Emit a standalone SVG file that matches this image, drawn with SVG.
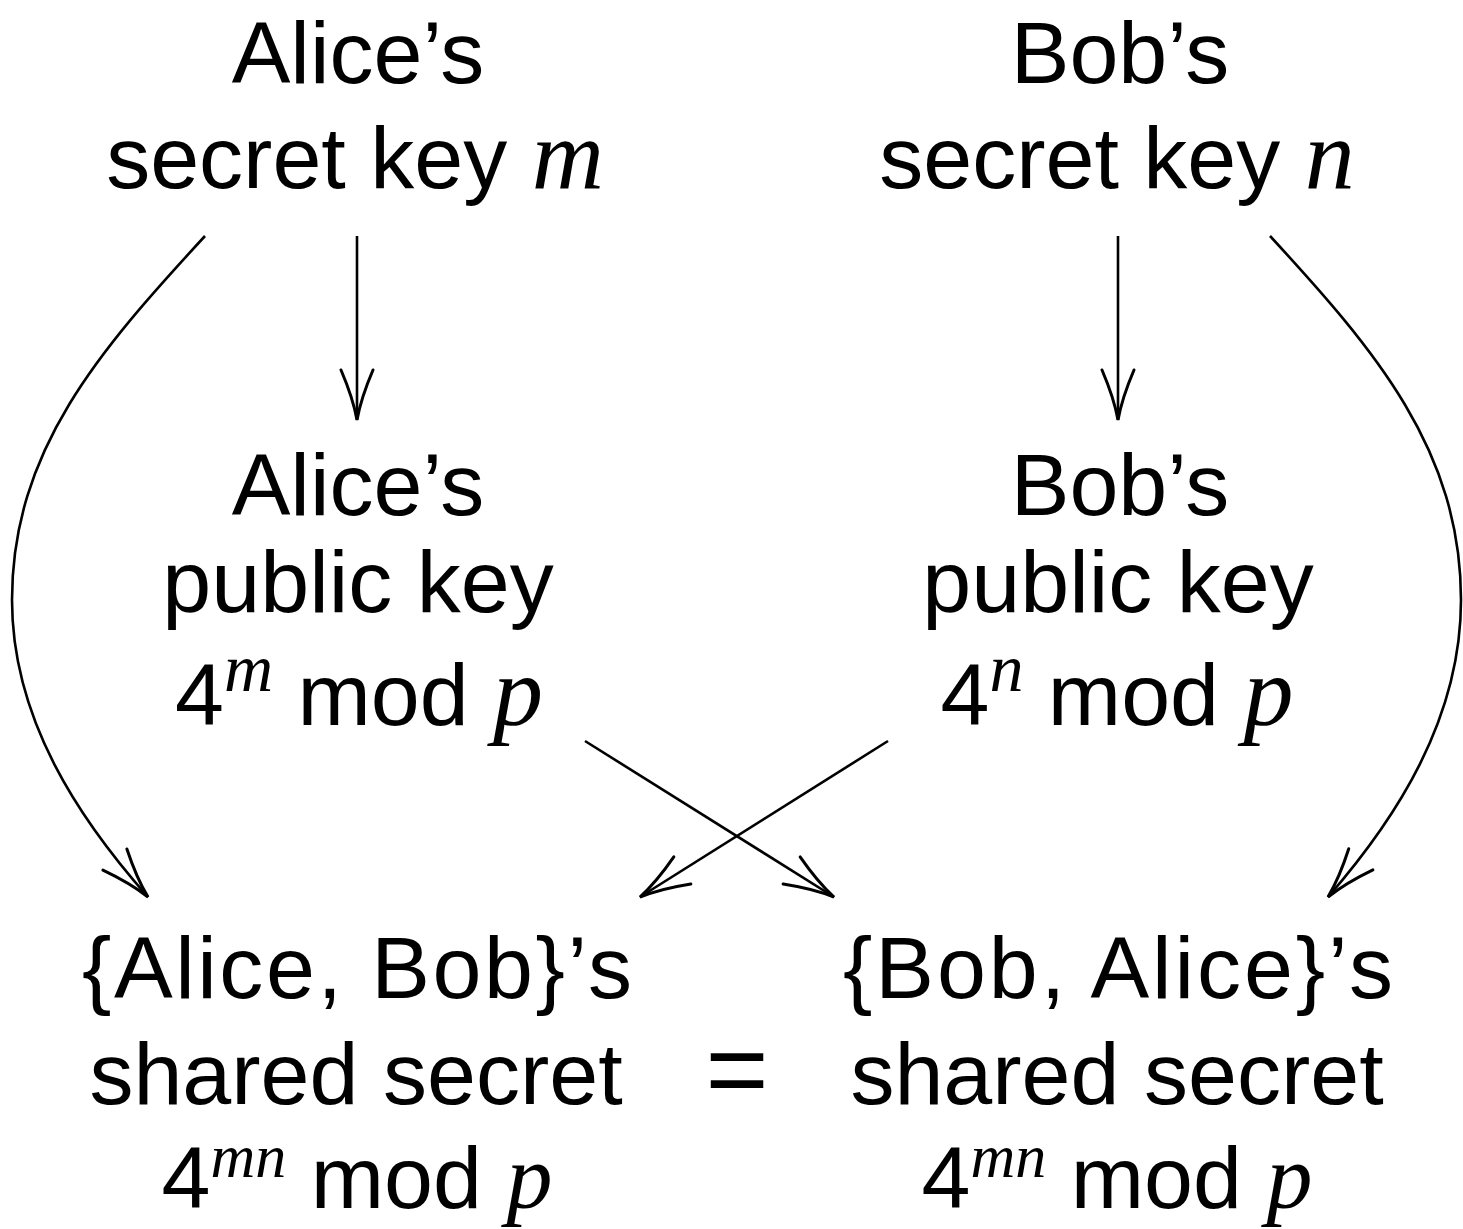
<svg xmlns="http://www.w3.org/2000/svg" width="1463" height="1229" viewBox="0 0 1463 1229">
<style>
text{font-family:"Liberation Sans",Arial,sans-serif;font-size:88px;fill:#000;text-anchor:middle}
.mi{font-family:"Liberation Serif","Times New Roman",serif;font-style:italic;font-size:100px}
.sup{font-size:68px}
.sb{font-size:62px}
.pb{font-size:92px}
.c{fill:none;stroke:#000;stroke-width:2.6}
</style>
<defs>
<marker id="ah" markerUnits="userSpaceOnUse" markerWidth="60" markerHeight="40" viewBox="-55 -20 60 40" refX="0" refY="0" orient="auto" overflow="visible">
<path d="M-50,-16 Q-22,-4 0,0 Q-22,4 -50,16" fill="none" stroke="#000" stroke-width="3" stroke-linecap="round"/>
</marker>
</defs>
<g id="alice-secret">
<text x="358" y="83">Alice’s</text>
<text x="355" y="188">secret key <tspan class="mi">m</tspan></text>
</g>
<g id="bob-secret">
<text x="1120" y="83">Bob’s</text>
<text x="1117" y="188">secret key <tspan class="mi">n</tspan></text>
</g>
<g id="alice-public">
<text x="358" y="515">Alice’s</text>
<text x="358" y="612">public key</text>
<text x="359" y="725">4<tspan class="mi sup" dy="-34">m</tspan><tspan dy="34"> mod </tspan><tspan class="mi">p</tspan></text>
</g>
<g id="bob-public">
<text x="1120" y="515">Bob’s</text>
<text x="1118" y="612">public key</text>
<text x="1117" y="725">4<tspan class="mi sup" dy="-34">n</tspan><tspan dy="34"> mod </tspan><tspan class="mi">p</tspan></text>
</g>
<g id="alice-shared">
<text x="357" y="998" textLength="550" lengthAdjust="spacing">{Alice, Bob}’s</text>
<text x="356" y="1104">shared secret</text>
<text x="357" y="1208">4<tspan class="mi sb" dy="-31">mn</tspan><tspan dy="31"> mod </tspan><tspan class="mi pb">p</tspan></text>
</g>
<g id="bob-shared">
<text x="1118" y="998" textLength="550" lengthAdjust="spacing">{Bob, Alice}’s</text>
<text x="1117" y="1104">shared secret</text>
<text x="1117" y="1208">4<tspan class="mi sb" dy="-31">mn</tspan><tspan dy="31"> mod </tspan><tspan class="mi pb">p</tspan></text>
</g>
<g id="equals">
<text x="737" y="1106" style="font-size:108px">=</text>
</g>
<g id="connectors">
<path class="c" d="M357,236 L357,420" marker-end="url(#ah)"/>
<path class="c" d="M1118,236 L1118,420" marker-end="url(#ah)"/>
<path class="c" d="M205,236 C100,350 12,450 12,600 C12,720 80,820 148,897" marker-end="url(#ah)"/>
<path class="c" d="M1270,236 C1375,350 1461,450 1461,600 C1461,720 1395,820 1328,897" marker-end="url(#ah)"/>
<path class="c" d="M585,741 L834,897" marker-end="url(#ah)"/>
<path class="c" d="M888,741 L640,897" marker-end="url(#ah)"/>
</g>
</svg>
